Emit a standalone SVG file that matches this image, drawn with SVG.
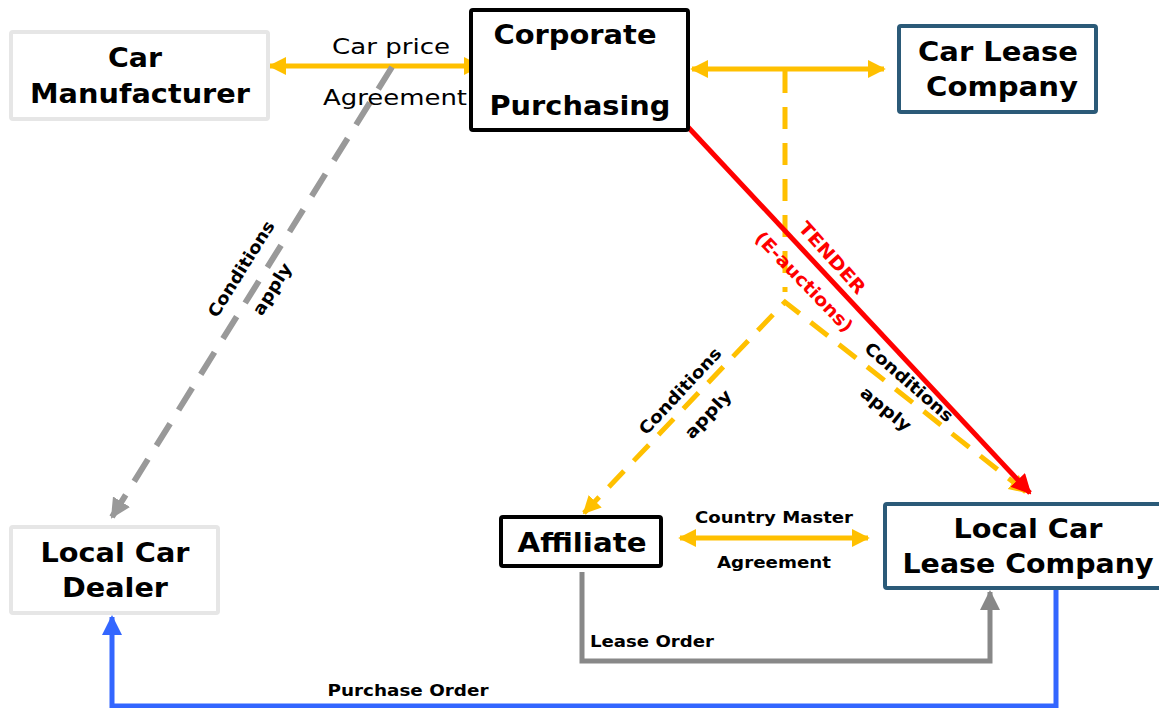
<svg xmlns="http://www.w3.org/2000/svg" width="1159" height="708" viewBox="0 0 1159 708">
<style>
.box{fill:#fff;stroke-width:4}
.gray{stroke:#e6e6e6}
.blk{stroke:#000}
.teal{stroke:#2b5a78}
.t{font-family:"DejaVu Sans",Verdana,sans-serif;font-weight:bold;fill:#000;text-anchor:middle}
.n{font-family:"DejaVu Sans",Verdana,sans-serif;fill:#000;text-anchor:middle}
.r{fill:#ff0000}
.y{stroke:#ffc000;stroke-width:5;fill:none}
.yd{stroke:#ffc000;stroke-width:5;fill:none;stroke-dasharray:22 14}
</style>
<defs>
<marker id="ay" viewBox="0 0 10 10" refX="9" refY="5" markerWidth="18" markerHeight="20" markerUnits="userSpaceOnUse" orient="auto-start-reverse"><path d="M0,0L10,5L0,10z" fill="#ffc000"/></marker>
<marker id="ar" viewBox="0 0 10 10" refX="9" refY="5" markerWidth="20" markerHeight="20" markerUnits="userSpaceOnUse" orient="auto"><path d="M0,0L10,5L0,10z" fill="#ff0000"/></marker>
<marker id="ag" viewBox="0 0 10 10" refX="9" refY="5" markerWidth="20" markerHeight="20" markerUnits="userSpaceOnUse" orient="auto"><path d="M0,0L10,5L0,10z" fill="#999"/></marker>
<marker id="ag2" viewBox="0 0 10 10" refX="9" refY="5" markerWidth="20" markerHeight="20" markerUnits="userSpaceOnUse" orient="auto"><path d="M0,0L10,5L0,10z" fill="#888"/></marker>
<marker id="ab" viewBox="0 0 10 10" refX="9" refY="5" markerWidth="20" markerHeight="20" markerUnits="userSpaceOnUse" orient="auto"><path d="M0,0L10,5L0,10z" fill="#3366ff"/></marker>
</defs>
<rect width="1159" height="708" fill="#fff"/>
<g id="connectors">
<line class="y" x1="270" y1="66" x2="480" y2="66" marker-start="url(#ay)" marker-end="url(#ay)"/>
<line class="y" x1="692" y1="69" x2="884" y2="69" marker-start="url(#ay)" marker-end="url(#ay)"/>
<line class="yd" x1="785" y1="71" x2="785" y2="292"/>
<polyline class="yd" points="584,513 785,302 1026,492" marker-start="url(#ay)" marker-end="url(#ay)"/>
<line x1="688" y1="127" x2="1030" y2="493" stroke="#ff0000" stroke-width="5" marker-end="url(#ar)"/>
<line x1="392" y1="67" x2="112" y2="517" stroke="#999" stroke-width="6" stroke-dasharray="26 16" marker-end="url(#ag)"/>
<line class="y" x1="680" y1="538" x2="868" y2="538" marker-start="url(#ay)" marker-end="url(#ay)"/>
<polyline points="582,572 582,661 990,661 990,592" fill="none" stroke="#888" stroke-width="5" marker-end="url(#ag2)"/>
<polyline points="1056,590 1056,706 112,706 112,617" fill="none" stroke="#3366ff" stroke-width="5" marker-end="url(#ab)"/>
<text class="n" x="391" y="54" font-size="22" textLength="118" lengthAdjust="spacingAndGlyphs">Car price</text>
<text class="n" x="395" y="105" font-size="22" textLength="144" lengthAdjust="spacingAndGlyphs">Agreement</text>
<text class="t r" font-size="18" transform="translate(832,258) rotate(48)" dy="6" textLength="90" lengthAdjust="spacingAndGlyphs">TENDER</text>
<text class="t r" font-size="18" transform="translate(804,282) rotate(46)" dy="6" textLength="132" lengthAdjust="spacingAndGlyphs">(E-auctions)</text>
<text class="t" font-size="17" transform="translate(241,269) rotate(-58)" dy="6" textLength="110" lengthAdjust="spacingAndGlyphs">Conditions</text>
<text class="t" font-size="17" transform="translate(272,289) rotate(-58)" dy="6" textLength="58" lengthAdjust="spacingAndGlyphs">apply</text>
<text class="t" font-size="17" transform="translate(680,391) rotate(-47)" dy="6" textLength="112" lengthAdjust="spacingAndGlyphs">Conditions</text>
<text class="t" font-size="17" transform="translate(708,414) rotate(-47)" dy="6" textLength="60" lengthAdjust="spacingAndGlyphs">apply</text>
<text class="t" font-size="17" transform="translate(909,382) rotate(41)" dy="6" textLength="111" lengthAdjust="spacingAndGlyphs">Conditions</text>
<text class="t" font-size="17" transform="translate(886,409) rotate(39)" dy="6" textLength="60" lengthAdjust="spacingAndGlyphs">apply</text>
<text class="t" x="774" y="523" font-size="16" textLength="158" lengthAdjust="spacingAndGlyphs">Country Master</text>
<text class="t" x="774" y="568" font-size="16" textLength="114" lengthAdjust="spacingAndGlyphs">Agreement</text>
<text class="t" x="590" y="647" font-size="16" style="text-anchor:start" textLength="124" lengthAdjust="spacingAndGlyphs">Lease Order</text>
<text class="t" x="408" y="696" font-size="16" textLength="161" lengthAdjust="spacingAndGlyphs">Purchase Order</text>
</g>
<g id="car-manufacturer">
<rect class="box gray" x="11" y="32" width="257" height="87" rx="2"/>
<text class="t" x="135" y="67" font-size="26" textLength="54" lengthAdjust="spacingAndGlyphs">Car</text>
<text class="t" x="140" y="103" font-size="26" textLength="220" lengthAdjust="spacingAndGlyphs">Manufacturer</text>
</g>
<g id="corporate-purchasing">
<rect class="box blk" x="471" y="10" width="217" height="120" rx="2"/>
<text class="t" x="575" y="44" font-size="26" textLength="163" lengthAdjust="spacingAndGlyphs">Corporate</text>
<text class="t" x="580" y="115" font-size="26" textLength="181" lengthAdjust="spacingAndGlyphs">Purchasing</text>
</g>
<g id="car-lease-company">
<rect class="box teal" x="899" y="26" width="197" height="86" rx="2"/>
<text class="t" x="998" y="61" font-size="26" textLength="160" lengthAdjust="spacingAndGlyphs">Car Lease</text>
<text class="t" x="1002" y="96" font-size="26" textLength="152" lengthAdjust="spacingAndGlyphs">Company</text>
</g>
<g id="local-car-dealer">
<rect class="box gray" x="11" y="527" width="207" height="86" rx="2"/>
<text class="t" x="115" y="562" font-size="26" textLength="149" lengthAdjust="spacingAndGlyphs">Local Car</text>
<text class="t" x="115" y="597" font-size="26" textLength="106" lengthAdjust="spacingAndGlyphs">Dealer</text>
</g>
<g id="affiliate">
<rect class="box blk" x="501" y="517" width="160" height="49" rx="2"/>
<text class="t" x="582" y="552" font-size="27" textLength="129" lengthAdjust="spacingAndGlyphs">Affiliate</text>
</g>
<g id="local-car-lease-company">
<rect class="box teal" x="885" y="504" width="280" height="84" rx="2"/>
<text class="t" x="1028" y="538" font-size="27" textLength="149" lengthAdjust="spacingAndGlyphs">Local Car</text>
<text class="t" x="1028" y="573" font-size="27" textLength="251" lengthAdjust="spacingAndGlyphs">Lease Company</text>
</g>
</svg>
